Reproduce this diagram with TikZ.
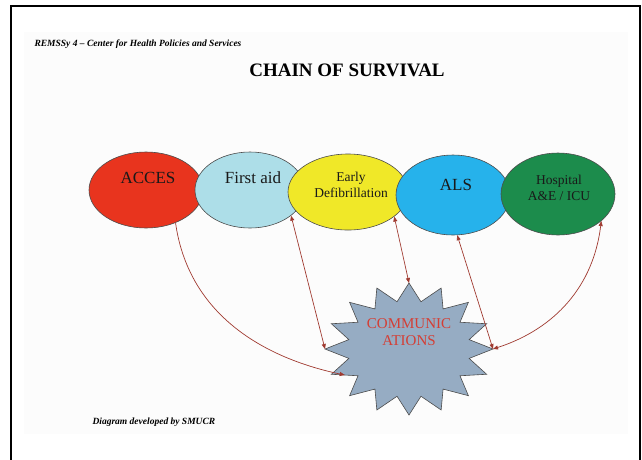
\documentclass[tikz,border=0pt]{standalone}
\usepackage{fontspec}
\setmainfont{Liberation Serif}
\usetikzlibrary{calc,arrows.meta,shapes.geometric}

\definecolor{accesred}{RGB}{232,52,30}
\definecolor{aidblue}{RGB}{173,222,232}
\definecolor{defibyellow}{RGB}{240,232,40}
\definecolor{alsblue}{RGB}{38,178,235}
\definecolor{hospgreen}{RGB}{28,140,76}
\definecolor{stargray}{RGB}{150,172,195}
\definecolor{linkred}{RGB}{160,58,48}
\definecolor{commred}{RGB}{212,62,52}

\tikzset{
    link/.style={ellipse, draw=black!70, line width=0.6pt, inner sep=0pt,
        minimum width=114, minimum height=76},
    linktext/.style={font=\fontsize{17}{19}\selectfont, text=black!90},
    smalltext/.style={font=\fontsize{13.5}{16}\selectfont, text=black!90, align=center},
    wire/.style={draw=linkred, line width=0.7pt},
    tip/.tip={Triangle[length=5pt,width=4pt]}
}

\begin{document}
\begin{tikzpicture}[x=1pt,y=1pt]
    \useasboundingbox (0,0) rectangle (642,-459);
    \fill[gray!2] (24,-32) rectangle (628,-434);
    \draw[line width=1.8pt] (11,-470) -- (11,-6) -- (640,-6) -- (640,-470);

    \node[anchor=west, font=\bfseries\itshape\fontsize{9.5}{11}\selectfont] (header) at (31,-44)
        {REMSSy 4 – Center for Health Policies and Services};
    \node[font=\bfseries\fontsize{19}{22}\selectfont] (title) at (347,-70) {CHAIN OF SURVIVAL};
    \node[anchor=west, font=\bfseries\itshape\fontsize{9.5}{11}\selectfont] (credit) at (89,-422)
        {Diagram developed by SMUCR};

    % the chain
    \node[link, fill=accesred] (acces) at (146,-190) {};
    \node[linktext] at ($(acces)+(2,12)$) {ACCES};
    \node[link, fill=aidblue, minimum width=110] (firstaid) at (250,-190) {};
    \node[linktext] at ($(firstaid)+(3,12)$) {First aid};
    \node[link, fill=defibyellow, minimum width=120] (defib) at (348,-192) {};
    \node[smalltext] at ($(defib)+(3,7)$) {Early\\Defibrillation};
    \node[link, fill=alsblue, minimum height=80] (als) at (453,-195) {};
    \node[linktext] at ($(als)+(3,10)$) {ALS};
    \node[link, fill=hospgreen, minimum height=82] (hosp) at (558,-194) {};
    \node[smalltext] at ($(hosp)+(1,6)$) {Hospital\\A\&E / ICU};

    % communications star
    \coordinate (comm) at (409,-349);
    \foreach \i [evaluate=\i as \r using {1-0.27*mod(\i,2)}] in {0,...,31}
        \coordinate (s\i) at ($(comm)+({90+\i*11.25}:{84*\r} and {66*\r})$);
    \draw[fill=stargray, draw=black!70, line width=0.6pt] (s0) \foreach \i in {1,...,31}{ -- (s\i) } -- cycle;
    \node[font=\fontsize{15}{17}\selectfont, text=commred, align=center] (commtext)
        at ($(comm)+(0,17)$) {COMMUNIC\\ATIONS};

    % links
    \draw[wire, -tip] (acces.-48) to[out=-82, in=168] ($(s10)!0.5!(s11)$);
    \draw[wire, tip-tip] (firstaid.-32) -- (s8);
    \draw[wire, tip-tip] (defib.-28) -- (s0);
    \draw[wire, tip-tip] (als.-84) -- (s24);
    \draw[wire, tip-tip] (hosp.-32) to[out=-97, in=18] (s24);
\end{tikzpicture}
\end{document}
